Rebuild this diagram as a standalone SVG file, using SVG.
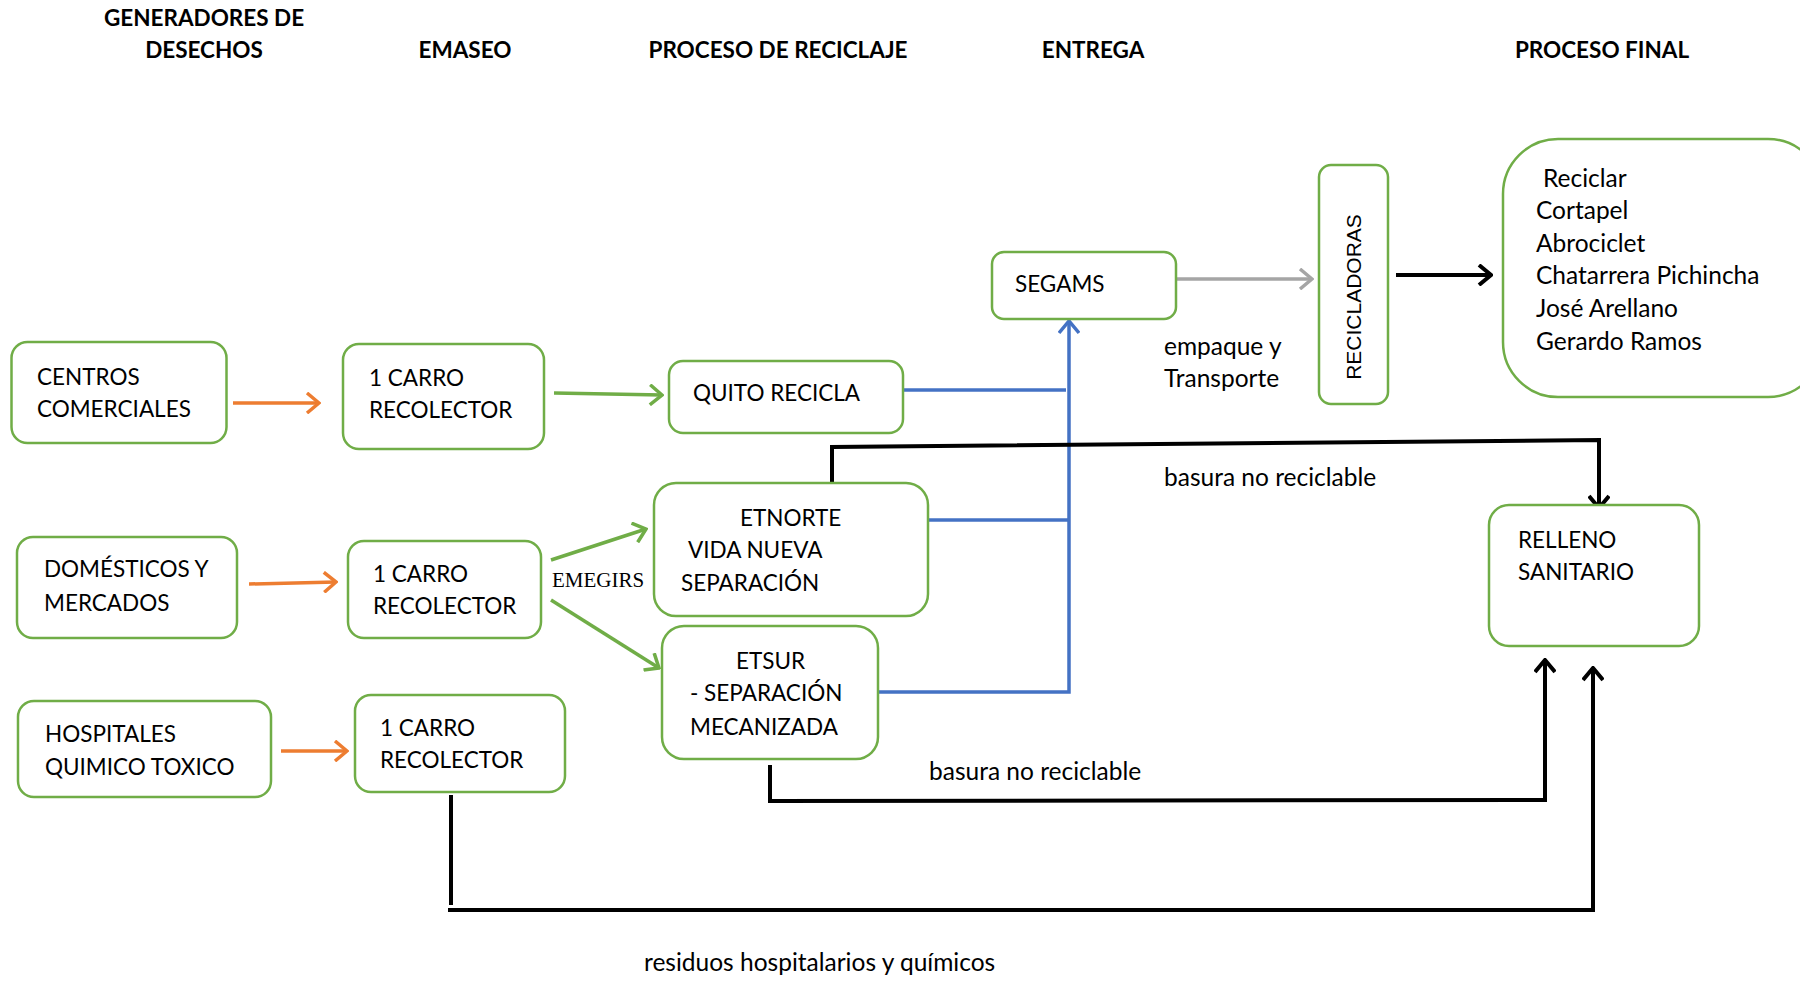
<svg xmlns="http://www.w3.org/2000/svg" width="1800" height="981" viewBox="0 0 1800 981">
<style>
text{font-family:Lato,"Open Sans","Liberation Sans",sans-serif;font-size:22.5px;fill:#000}
.h{font-weight:bold;text-anchor:middle;font-size:22.5px}
.lc{font-size:24.5px}
.box{fill:#fff;stroke:#70AD47;stroke-width:2.5}
.or{stroke:#ED7D31;stroke-width:3.5;fill:none}
.gr{stroke:#70AD47;stroke-width:3.5;fill:none}
.bl{stroke:#4472C4;stroke-width:3.5;fill:none}
.gy{stroke:#A5A5A5;stroke-width:3.5;fill:none}
.bk{stroke:#000;stroke-width:4;fill:none}
</style>
<defs>
<marker id="aor" viewBox="0 0 16 22" refX="14" refY="11" markerWidth="16" markerHeight="22" markerUnits="userSpaceOnUse" orient="auto"><path d="M2,1 L14,11 L2,21" fill="none" stroke="#ED7D31" stroke-width="3.5"/></marker>
<marker id="agr" viewBox="0 0 16 22" refX="14" refY="11" markerWidth="16" markerHeight="22" markerUnits="userSpaceOnUse" orient="auto"><path d="M2,1 L14,11 L2,21" fill="none" stroke="#70AD47" stroke-width="3.5"/></marker>
<marker id="abl" viewBox="0 0 16 22" refX="14" refY="11" markerWidth="16" markerHeight="22" markerUnits="userSpaceOnUse" orient="auto"><path d="M2,1 L14,11 L2,21" fill="none" stroke="#4472C4" stroke-width="3.5"/></marker>
<marker id="agy" viewBox="0 0 16 22" refX="14" refY="11" markerWidth="16" markerHeight="22" markerUnits="userSpaceOnUse" orient="auto"><path d="M2,1 L14,11 L2,21" fill="none" stroke="#A5A5A5" stroke-width="3.5"/></marker>
<marker id="abk" viewBox="0 0 16 22" refX="14" refY="11" markerWidth="16" markerHeight="22" markerUnits="userSpaceOnUse" orient="auto"><path d="M2,1 L14,11 L2,21" fill="none" stroke="#000" stroke-width="4"/></marker>
</defs>

<g id="headers">
<text class="h" x="204" y="26">GENERADORES DE</text>
<text class="h" x="204" y="58">DESECHOS</text>
<text class="h" x="465" y="58">EMASEO</text>
<text class="h" x="778" y="58">PROCESO DE RECICLAJE</text>
<text class="h" x="1093" y="58">ENTREGA</text>
<text class="h" x="1602" y="58">PROCESO FINAL</text>
</g>

<g id="connectors">
<line class="or" x1="233" y1="403" x2="319" y2="403" marker-end="url(#aor)"/>
<line class="or" x1="249" y1="584" x2="336" y2="582" marker-end="url(#aor)"/>
<line class="or" x1="281" y1="751" x2="347" y2="751" marker-end="url(#aor)"/>
<line class="gr" x1="554" y1="393" x2="662" y2="395" marker-end="url(#agr)"/>
<line class="gr" x1="551" y1="560" x2="646" y2="529" marker-end="url(#agr)"/>
<line class="gr" x1="551" y1="600" x2="659" y2="668" marker-end="url(#agr)"/>
<line class="bl" x1="903" y1="390" x2="1066" y2="390"/>
<line class="bl" x1="928" y1="520" x2="1069" y2="520"/>
<polyline class="bl" points="878,692 1069,692 1069,321" marker-end="url(#abl)"/>
<line class="gy" x1="1176" y1="279" x2="1312" y2="279" marker-end="url(#agy)"/>
<line class="bk" x1="1396" y1="275" x2="1491" y2="275" marker-end="url(#abk)"/>
<polyline class="bk" points="832,483 832,447 1599,440 1599,508" marker-end="url(#abk)"/>
<polyline class="bk" points="770,765 770,801 1545,800 1545,660" marker-end="url(#abk)"/>
<line class="bk" x1="451" y1="795" x2="451" y2="905"/>
<polyline class="bk" points="448,910 1593,910 1593,668" marker-end="url(#abk)"/>
<text x="552" y="587" style="font-family:'Liberation Serif',serif;font-size:21px">EMEGIRS</text>
<text class="lc" x="1164" y="355">empaque y</text>
<text class="lc" x="1164" y="387">Transporte</text>
<text class="lc" x="1164" y="486">basura no reciclable</text>
<text class="lc" x="929" y="780">basura no reciclable</text>
<text class="lc" x="644" y="971">residuos hospitalarios y químicos</text>
</g>

<g id="centros">
<rect class="box" x="11.5" y="342" width="215" height="101" rx="16"/>
<text x="37" y="385">CENTROS</text>
<text x="37" y="417">COMERCIALES</text>
</g>
<g id="carro1">
<rect class="box" x="343" y="344" width="201" height="105" rx="16"/>
<text x="369" y="386">1 CARRO</text>
<text x="369" y="418">RECOLECTOR</text>
</g>
<g id="quito">
<rect class="box" x="669" y="361" width="234" height="72" rx="14"/>
<text x="693" y="401">QUITO RECICLA</text>
</g>
<g id="segams">
<rect class="box" x="992" y="252" width="184" height="67" rx="12"/>
<text x="1015" y="292">SEGAMS</text>
</g>
<g id="recicladoras">
<rect class="box" x="1319" y="165" width="69" height="239" rx="12"/>
<text transform="translate(1361,297) rotate(-90)" style="font-family:'Liberation Sans',Arial,sans-serif;font-size:21px;text-anchor:middle">RECICLADORAS</text>
</g>
<g id="final">
<rect class="box" x="1503" y="139" width="320" height="258" rx="55"/>
<text class="lc" x="1543" y="187">Reciclar</text>
<text class="lc" x="1536" y="219">Cortapel</text>
<text class="lc" x="1536" y="252">Abrociclet</text>
<text class="lc" x="1536" y="284">Chatarrera Pichincha</text>
<text class="lc" x="1536" y="317">José Arellano</text>
<text class="lc" x="1536" y="350">Gerardo Ramos</text>
</g>
<g id="relleno">
<rect class="box" x="1489" y="505" width="210" height="141" rx="20"/>
<text x="1518" y="548">RELLENO</text>
<text x="1518" y="580">SANITARIO</text>
</g>
<g id="domesticos">
<rect class="box" x="17" y="537" width="220" height="101" rx="16"/>
<text x="44" y="577">DOMÉSTICOS Y</text>
<text x="44" y="611">MERCADOS</text>
</g>
<g id="carro2">
<rect class="box" x="348" y="541" width="193" height="97" rx="16"/>
<text x="373" y="582">1 CARRO</text>
<text x="373" y="614">RECOLECTOR</text>
</g>
<g id="etnorte">
<rect class="box" x="654" y="483" width="274" height="133" rx="22"/>
<text x="740" y="526">ETNORTE</text>
<text x="688" y="558">VIDA NUEVA</text>
<text x="681" y="591">SEPARACIÓN</text>
</g>
<g id="etsur">
<rect class="box" x="662" y="626" width="216" height="133" rx="22"/>
<text x="736" y="669">ETSUR</text>
<text x="690" y="701">- SEPARACIÓN</text>
<text x="690" y="735">MECANIZADA</text>
</g>
<g id="hospitales">
<rect class="box" x="18" y="701" width="253" height="96" rx="16"/>
<text x="45" y="742">HOSPITALES</text>
<text x="45" y="775">QUIMICO TOXICO</text>
</g>
<g id="carro3">
<rect class="box" x="355" y="695" width="210" height="97" rx="16"/>
<text x="380" y="736">1 CARRO</text>
<text x="380" y="768">RECOLECTOR</text>
</g>
</svg>
